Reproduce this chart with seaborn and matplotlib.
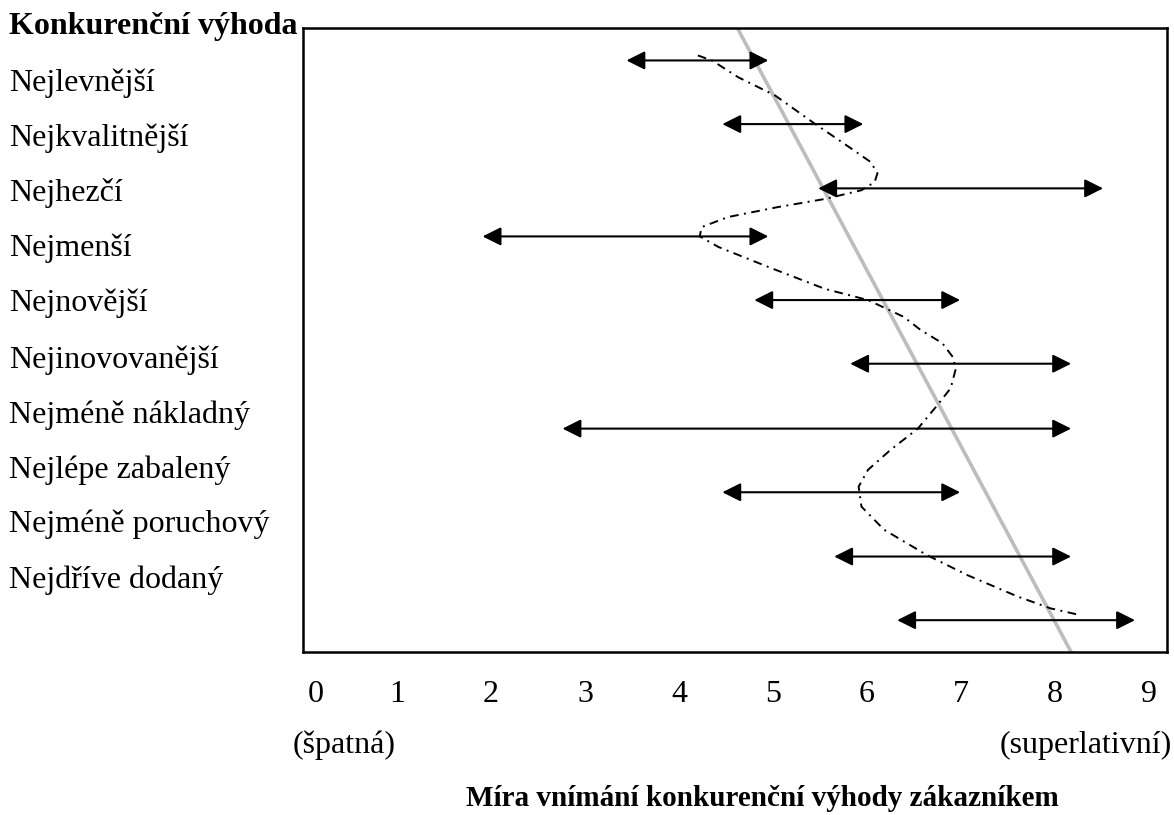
import matplotlib
matplotlib.use("Agg")
import matplotlib.pyplot as plt
import matplotlib.transforms as mtransforms
import seaborn as sns

# advantage categories (rows, top to bottom)
header = "Konkurenční výhoda"
advantages = ["Nejlevnější", "Nejkvalitnější", "Nejhezčí", "Nejmenší", "Nejnovější",
              "Nejinovovanější", "Nejméně nákladný", "Nejlépe zabalený",
              "Nejméně poruchový", "Nejdříve dodaný"]
label_y = [0.88, 1.76, 2.64, 3.53, 4.41, 5.32, 6.20, 7.08, 7.96, 8.85]

# perceived advantage ranges (arrows)
arrow_y = [0.52, 1.54, 2.57, 3.34, 4.36, 5.38, 6.42, 7.44, 8.47, 9.49]
range_low = [3.44, 4.46, 5.48, 1.91, 4.80, 5.82, 2.76, 4.46, 5.65, 6.32]
range_high = [4.95, 5.96, 8.51, 4.95, 6.99, 8.17, 8.17, 6.99, 8.17, 8.85]

# grey trend line
trend_x = [4.62, 8.17]
trend_y = [0.0, 10.0]

# dash-dot customer curve
curve_x = [4.20, 4.35, 4.63, 5.02, 5.44, 5.83, 6.04, 6.11, 6.08, 5.94, 5.55, 5.05,
           4.52, 4.24, 4.22, 4.42, 4.95, 5.55, 6.01, 6.39, 6.57, 6.80, 6.92, 6.94,
           6.89, 6.75, 6.54, 6.25, 6.01, 5.91, 5.94, 6.18, 6.64, 7.07, 7.60, 7.95, 8.27]
curve_y = [0.44, 0.52, 0.79, 1.08, 1.53, 1.93, 2.15, 2.33, 2.47, 2.60, 2.74, 2.87,
           3.03, 3.19, 3.34, 3.51, 3.83, 4.18, 4.36, 4.63, 4.84, 5.05, 5.29, 5.48,
           5.77, 6.04, 6.42, 6.76, 7.08, 7.35, 7.67, 8.04, 8.45, 8.77, 9.11, 9.30, 9.41]

scale_ticks = list(range(10))
low_label = "(špatná)"
high_label = "(superlativní)"
xlabel = "Míra vnímání konkurenční výhody zákazníkem"

sns.set_style("white")
plt.rcParams["font.family"] = ["Liberation Serif", "DejaVu Serif"]
plt.rcParams["text.color"] = "black"
plt.rcParams["xtick.color"] = "black"

W, H = 1174, 815
fig = plt.figure(figsize=(W / 100, H / 100), dpi=100)
ax = fig.add_axes([303 / W, 1 - 652 / H, 864 / W, 624 / H])

# arrows
for y, lo, hi in zip(arrow_y, range_low, range_high):
    ax.annotate("", xy=(hi, y), xytext=(lo, y),
                arrowprops=dict(arrowstyle="<|-|>", color="black", lw=1.5,
                                mutation_scale=28, shrinkA=0, shrinkB=0))

sns.lineplot(x=trend_x, y=trend_y, ax=ax, color="#bdbdbd", lw=2.6,
             sort=False, estimator=None)
sns.lineplot(x=curve_x, y=curve_y, ax=ax, color="black", lw=1.4,
             linestyle=(0, (4.5, 2.8, 1, 2.8)), sort=False, estimator=None)

ax.set_xlim(0.032, 9.19)
ax.set_ylim(10, 0)
ax.set_yticks([])
ax.set_xticks(scale_ticks)
ax.set_xticklabels([str(t) for t in scale_ticks], fontsize=23)
ax.tick_params(axis="x", length=0, pad=20)
# the "0" sits a little inside the frame in the original
first = ax.get_xticklabels()[0]
first.set_transform(first.get_transform() +
                    mtransforms.ScaledTranslation(13 / 100, 0, fig.dpi_scale_trans))
for s in ax.spines.values():
    s.set_visible(True)
    s.set_color("black")
    s.set_linewidth(1.8)

# row labels on the left
trans = mtransforms.blended_transform_factory(fig.transFigure, ax.transData)
ax.text(9 / W, -0.02, header, transform=trans, fontsize=23, fontweight="bold",
        ha="left", va="center", clip_on=False)
for lab, y in zip(advantages, label_y):
    ax.text(9 / W, y, lab, transform=trans, fontsize=23, ha="left",
            va="center", clip_on=False)

fig.text(293 / W, 1 - 745 / H, low_label, fontsize=23, ha="left", va="center")
fig.text(1172 / W, 1 - 745 / H, high_label, fontsize=23, ha="right", va="center")
fig.text(762 / W, 1 - 799 / H, xlabel, fontsize=21, fontweight="bold",
         ha="center", va="center")

fig.savefig("out.png", dpi=100)
